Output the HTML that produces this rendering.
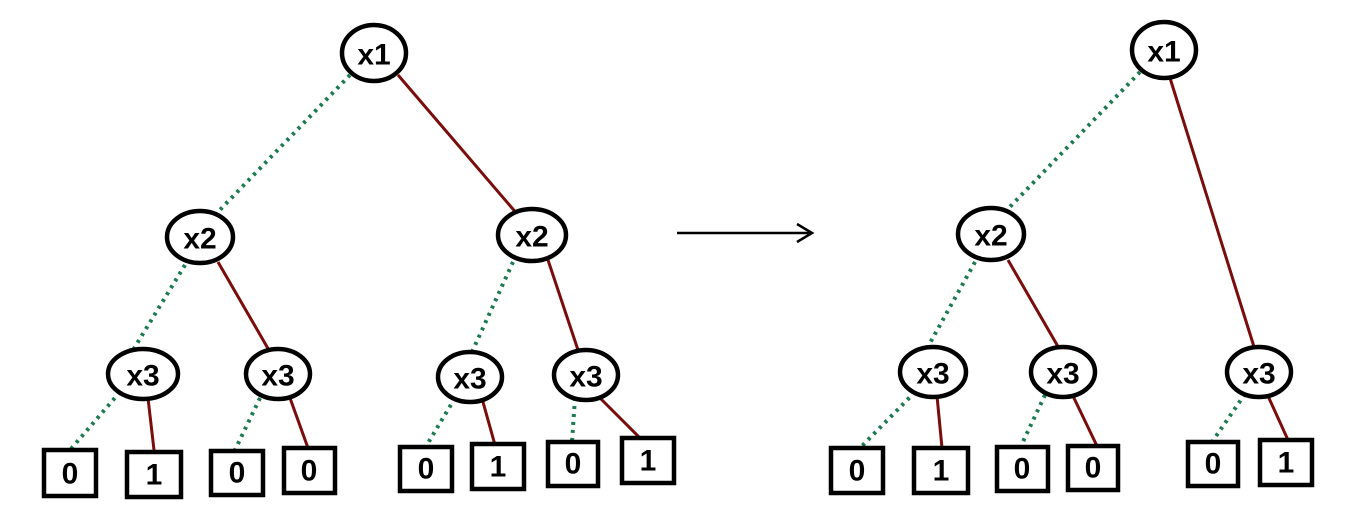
<!DOCTYPE html>
<html><head><meta charset="utf-8"><style>
html,body{margin:0;padding:0;background:#fff;}
svg{display:block}
text{font-family:"Liberation Sans",sans-serif;font-size:30px;fill:#000;text-anchor:middle;dominant-baseline:central;font-weight:bold}
.g{stroke:#1b7a50;stroke-width:4;stroke-dasharray:3 5;fill:none}
.r{stroke:#7a0c0c;stroke-width:3;fill:none}
.n{fill:#fff;stroke:#000;stroke-width:4.5}
</style></head><body>
<svg width="1357" height="526" viewBox="0 0 1357 526" xmlns="http://www.w3.org/2000/svg">
<line class="g" x1="350" y1="75" x2="215" y2="215"/>
<line class="r" x1="398" y1="75" x2="518" y2="215"/>
<line class="g" x1="185" y1="265" x2="130" y2="355"/>
<line class="r" x1="218" y1="262" x2="270" y2="352"/>
<line class="g" x1="513" y1="262" x2="472" y2="352"/>
<line class="r" x1="548" y1="260" x2="578" y2="350"/>
<line class="g" x1="120" y1="392" x2="70" y2="450"/>
<line class="r" x1="148" y1="398" x2="154" y2="450"/>
<line class="g" x1="260" y1="398" x2="235" y2="450"/>
<line class="r" x1="290" y1="398" x2="308" y2="448"/>
<line class="g" x1="455" y1="398" x2="425" y2="448"/>
<line class="r" x1="483" y1="402" x2="495" y2="445"/>
<line class="g" x1="575" y1="398" x2="572" y2="442"/>
<line class="r" x1="600" y1="398" x2="642" y2="440"/>
<line class="g" x1="1140" y1="72" x2="1005" y2="212"/>
<line class="r" x1="1170" y1="78" x2="1255" y2="350"/>
<line class="g" x1="975" y1="262" x2="925" y2="352"/>
<line class="r" x1="1008" y1="260" x2="1060" y2="350"/>
<line class="g" x1="915" y1="392" x2="860" y2="448"/>
<line class="r" x1="937" y1="396" x2="942" y2="448"/>
<line class="g" x1="1045" y1="395" x2="1020" y2="448"/>
<line class="r" x1="1073" y1="396" x2="1097" y2="446"/>
<line class="g" x1="1245" y1="394" x2="1212" y2="442"/>
<line class="r" x1="1268" y1="396" x2="1288" y2="440"/>
<line x1="677" y1="233" x2="810" y2="233" stroke="#000" stroke-width="2.5"/>
<path d="M797 224 L812 233 L797 242" fill="none" stroke="#000" stroke-width="2.5"/>
<g>
<ellipse class="n" cx="374" cy="53" rx="32" ry="28"/><text x="374" y="55">x1</text>
<ellipse class="n" cx="200" cy="237" rx="33" ry="26"/><text x="200" y="239">x2</text>
<ellipse class="n" cx="532" cy="235" rx="34" ry="26"/><text x="532" y="237">x2</text>
<ellipse class="n" cx="143" cy="374" rx="35" ry="25"/><text x="143" y="376">x3</text>
<ellipse class="n" cx="278" cy="374" rx="32" ry="25"/><text x="278" y="376">x3</text>
<ellipse class="n" cx="470" cy="377" rx="32" ry="25"/><text x="470" y="379">x3</text>
<ellipse class="n" cx="586" cy="375" rx="32" ry="25"/><text x="586" y="377">x3</text>
<ellipse class="n" cx="1164" cy="50" rx="32" ry="28"/><text x="1164" y="52">x1</text>
<ellipse class="n" cx="991" cy="234" rx="33" ry="26"/><text x="991" y="236">x2</text>
<ellipse class="n" cx="933" cy="372" rx="33" ry="25"/><text x="933" y="374">x3</text>
<ellipse class="n" cx="1063" cy="372" rx="32" ry="25"/><text x="1063" y="374">x3</text>
<ellipse class="n" cx="1259" cy="372" rx="32" ry="25"/><text x="1259" y="374">x3</text>
</g>
<g>
<rect class="n" x="44" y="450" width="52" height="46"/><text x="70" y="474">0</text>
<rect class="n" x="127" y="452" width="54" height="45"/><text x="154" y="475">1</text>
<rect class="n" x="211" y="451" width="52" height="44"/><text x="237" y="473">0</text>
<rect class="n" x="284" y="448" width="51" height="45"/><text x="309" y="471">0</text>
<rect class="n" x="400" y="447" width="52" height="44"/><text x="426" y="469">0</text>
<rect class="n" x="472" y="444" width="52" height="45"/><text x="498" y="467">1</text>
<rect class="n" x="548" y="442" width="50" height="44"/><text x="573" y="464">0</text>
<rect class="n" x="622" y="438" width="52" height="45"/><text x="648" y="461">1</text>
<rect class="n" x="831" y="448" width="52" height="45"/><text x="857" y="471">0</text>
<rect class="n" x="914" y="448" width="54" height="45"/><text x="941" y="471">1</text>
<rect class="n" x="997" y="447" width="51" height="44"/><text x="1022" y="469">0</text>
<rect class="n" x="1068" y="446" width="50" height="44"/><text x="1093" y="468">0</text>
<rect class="n" x="1188" y="442" width="50" height="44"/><text x="1213" y="464">0</text>
<rect class="n" x="1260" y="440" width="52" height="45"/><text x="1286" y="463">1</text>
</g>
</svg>
</body></html>
